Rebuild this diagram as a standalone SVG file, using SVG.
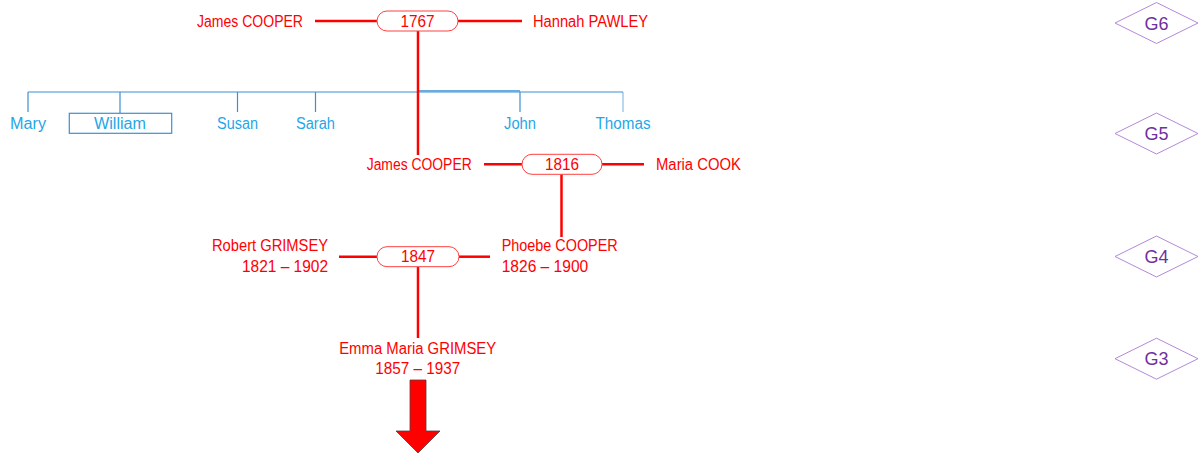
<svg xmlns="http://www.w3.org/2000/svg" width="1200" height="457" viewBox="0 0 1200 457">
<style>
  text { font-family: "Liberation Sans", Arial, sans-serif; font-size: 16px; }
  .red { fill: #FF0000; }
  .blue { fill: #1FA6E8; }
  .gen { fill: #7030A0; font-size: 18px; }
  .pill { fill: #FFFFFF; stroke: #FF4040; stroke-width: 1; }
  .rl { stroke: #FF0000; stroke-width: 2.5; fill: none; }
  .bl { stroke: #3D8FD1; stroke-width: 1.2; fill: none; }
  .dia { fill: #FFFFFF; stroke: #B389DA; stroke-width: 1; }
</style>
<rect width="1200" height="457" fill="#FFFFFF"/>

<g id="connectors">
  <line class="bl" x1="28" y1="92" x2="623" y2="92"/>
  <line class="bl" x1="418" y1="90.8" x2="520" y2="90.8"/>
  <line class="bl" x1="28" y1="92" x2="28" y2="112"/>
  <line class="bl" x1="120" y1="92" x2="120" y2="113"/>
  <line class="bl" x1="237.5" y1="92" x2="237.5" y2="112"/>
  <line class="bl" x1="315.5" y1="92" x2="315.5" y2="112"/>
  <line class="bl" x1="520" y1="92" x2="520" y2="112"/>
  <line class="bl" x1="623" y1="92" x2="623" y2="112" stroke-opacity="0.6"/>
  <line class="rl" x1="315" y1="21" x2="377" y2="21"/>
  <line class="rl" x1="458" y1="21" x2="522" y2="21"/>
  <line class="rl" x1="418" y1="31" x2="418" y2="155"/>
  <line class="rl" x1="484" y1="164.3" x2="522" y2="164.3"/>
  <line class="rl" x1="602" y1="164.3" x2="644" y2="164.3"/>
  <line class="rl" x1="561.5" y1="174.3" x2="561.5" y2="237"/>
  <line class="rl" x1="339" y1="256.7" x2="377" y2="256.7"/>
  <line class="rl" x1="459" y1="256.7" x2="490" y2="256.7"/>
  <line class="rl" x1="418" y1="266.7" x2="418" y2="338"/>
</g>

<g id="marriage-1767">
  <rect class="pill" x="377" y="11" width="81" height="20" rx="10"/>
  <text class="red" x="417.5" y="26.5" text-anchor="middle" textLength="34" lengthAdjust="spacingAndGlyphs">1767</text>
</g>
<g id="james-cooper-g6">
  <text class="red" x="303" y="26.5" text-anchor="end" textLength="106" lengthAdjust="spacingAndGlyphs">James COOPER</text>
</g>
<g id="hannah-pawley">
  <text class="red" x="533" y="26.5" textLength="115" lengthAdjust="spacingAndGlyphs">Hannah PAWLEY</text>
</g>

<g id="mary"><text class="blue" x="28" y="129" text-anchor="middle" textLength="36" lengthAdjust="spacingAndGlyphs">Mary</text></g>
<g id="william">
  <rect x="69.3" y="113.3" width="102.4" height="20" fill="none" stroke="#3D8FD1" stroke-width="1.2"/>
  <text class="blue" x="120" y="129" text-anchor="middle" textLength="52" lengthAdjust="spacingAndGlyphs">William</text>
</g>
<g id="susan"><text class="blue" x="237.5" y="129" text-anchor="middle" textLength="41" lengthAdjust="spacingAndGlyphs">Susan</text></g>
<g id="sarah"><text class="blue" x="315.5" y="129" text-anchor="middle" textLength="39" lengthAdjust="spacingAndGlyphs">Sarah</text></g>
<g id="john"><text class="blue" x="520" y="129" text-anchor="middle" textLength="32" lengthAdjust="spacingAndGlyphs">John</text></g>
<g id="thomas"><text class="blue" x="623" y="129" text-anchor="middle" textLength="55" lengthAdjust="spacingAndGlyphs">Thomas</text></g>

<g id="james-cooper-g5">
  <text class="red" x="471.7" y="169.8" text-anchor="end" textLength="105" lengthAdjust="spacingAndGlyphs">James COOPER</text>
</g>
<g id="marriage-1816">
  <rect class="pill" x="522" y="154.3" width="80" height="20" rx="10"/>
  <text class="red" x="562" y="169.8" text-anchor="middle" textLength="34" lengthAdjust="spacingAndGlyphs">1816</text>
</g>
<g id="maria-cook">
  <text class="red" x="656" y="169.8" textLength="85" lengthAdjust="spacingAndGlyphs">Maria COOK</text>
</g>

<g id="robert-grimsey">
  <text class="red" x="328" y="251" text-anchor="end" textLength="116" lengthAdjust="spacingAndGlyphs">Robert GRIMSEY</text>
  <text class="red" x="328" y="271.8" text-anchor="end" textLength="86" lengthAdjust="spacingAndGlyphs">1821 – 1902</text>
</g>
<g id="marriage-1847">
  <rect class="pill" x="377" y="246.7" width="82" height="20" rx="10"/>
  <text class="red" x="418" y="262" text-anchor="middle" textLength="34" lengthAdjust="spacingAndGlyphs">1847</text>
</g>
<g id="phoebe-cooper">
  <text class="red" x="501.7" y="251" textLength="116" lengthAdjust="spacingAndGlyphs">Phoebe COOPER</text>
  <text class="red" x="501.7" y="271.8" textLength="86.5" lengthAdjust="spacingAndGlyphs">1826 – 1900</text>
</g>

<g id="emma-maria-grimsey">
  <text class="red" x="417.7" y="353.6" text-anchor="middle" textLength="157" lengthAdjust="spacingAndGlyphs">Emma Maria GRIMSEY</text>
  <text class="red" x="417.7" y="374.3" text-anchor="middle" textLength="85" lengthAdjust="spacingAndGlyphs">1857 – 1937</text>
</g>

<g id="descent-arrow">
  <polygon points="410,380 426,380 426,431 440,431 418,453 396,431 410,431" fill="#FF0000" stroke="#5A3A3A" stroke-width="0.8"/>
</g>

<g id="gen-G6">
  <polygon class="dia" points="1115,23 1156.5,2.5 1198,23 1156.5,43.5"/>
  <text class="gen" x="1156.5" y="29.5" text-anchor="middle">G6</text>
</g>
<g id="gen-G5">
  <polygon class="dia" points="1115,133.5 1156.5,113 1198,133.5 1156.5,154"/>
  <text class="gen" x="1156.5" y="140" text-anchor="middle">G5</text>
</g>
<g id="gen-G4">
  <polygon class="dia" points="1115,256.5 1156.5,236 1198,256.5 1156.5,277"/>
  <text class="gen" x="1156.5" y="263" text-anchor="middle">G4</text>
</g>
<g id="gen-G3">
  <polygon class="dia" points="1115,358.7 1156.5,338.2 1198,358.7 1156.5,379.2"/>
  <text class="gen" x="1156.5" y="365.2" text-anchor="middle">G3</text>
</g>
</svg>
